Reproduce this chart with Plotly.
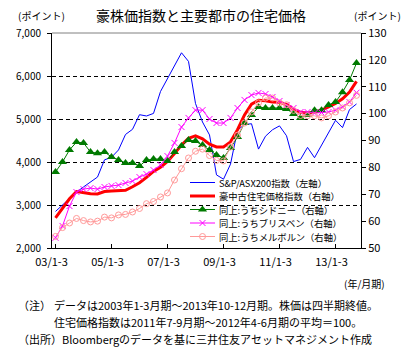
import plotly.graph_objects as go

# ---------------- data ----------------
years = list(range(2003, 2014))
qtrs = ["1-3", "4-6", "7-9", "10-12"]
quarters = [f"{y % 100:02d}/{q}" for y in years for q in qtrs]
tick_labels = ["03/1-3", "05/1-3", "07/1-3", "09/1-3", "11/1-3", "13/1-3"]

asx200 = [2850, 3000, 3140, 3300, 3420, 3530, 3650, 4050, 4110, 4280, 4640, 4760,
          5100, 5070, 5130, 5640, 5940, 6270, 6540, 6340, 5360, 4930, 4630, 3700,
          3600, 3950, 4740, 4870, 4890, 4300, 4600, 4750, 4840, 4610, 4010, 4060,
          4340, 4100, 4390, 4650, 4970, 4800, 5220, 5350]

house_avg = [61.2, 64.8, 68.3, 71.0, 70.5, 70.2, 70.1, 71.0, 71.2, 71.3, 71.5, 72.8,
             74.3, 76.3, 78.5, 80.0, 82.2, 85.2, 88.3, 90.8, 91.7, 90.6, 88.6, 87.6,
             87.6, 89.5, 94.0, 99.5, 103.5, 105.0, 104.8, 104.3, 104.2, 103.4, 101.6, 100.5,
             100.2, 100.5, 101.3, 102.5, 103.8, 105.5, 108.0, 112.0]

sydney = [78.3, 82.0, 86.5, 89.4, 89.1, 85.7, 85.3, 85.7, 83.9, 82.7, 81.6, 81.6,
          80.5, 82.7, 83.1, 83.1, 82.4, 85.7, 88.0, 90.2, 89.8, 88.3, 86.5, 84.6,
          83.5, 87.2, 91.3, 96.5, 99.5, 102.5, 102.1, 102.1, 102.1, 101.7, 99.9, 98.4,
          99.5, 101.3, 101.3, 103.2, 104.3, 108.0, 112.5, 118.8]

brisbane = [53.8, 58.2, 65.6, 70.8, 71.9, 72.3, 71.9, 72.7, 73.1, 73.4, 74.2, 74.9,
            76.4, 77.5, 79.0, 80.9, 84.2, 89.1, 95.0, 98.4, 101.3, 101.3, 98.0, 96.5,
            96.5, 98.4, 102.1, 105.1, 106.9, 107.7, 107.3, 106.2, 104.7, 103.2, 102.1, 100.6,
            100.6, 100.2, 100.4, 100.6, 101.3, 102.5, 104.3, 107.8]

melbourne = [54.3, 57.6, 59.3, 61.0, 60.2, 59.7, 60.0, 61.5, 61.2, 62.3, 62.5, 63.4,
             64.7, 66.5, 67.3, 69.0, 70.5, 75.3, 79.5, 83.5, 86.0, 86.8, 84.4, 82.6,
             82.4, 87.6, 92.0, 96.5, 100.6, 104.0, 105.8, 105.8, 104.0, 103.3, 101.2, 99.3,
             99.2, 99.2, 98.4, 99.2, 100.6, 102.1, 104.0, 106.8]

legend_names = ["S&P/ASX200指数（左軸）", "豪中古住宅価格指数（右軸）", "同上:うちシドニー（右軸）",
                "同上:うちブリスベン（右軸）", "同上:うちメルボルン（右軸）"]

# ---------------- styles ----------------
FONT = "Noto Sans CJK JP"
BLUE = "#0000FF"
RED = "#FF0000"
GREEN = "#007A00"
MAGENTA = "#FF00FF"
PINK = "#FF9999"

W, H = 417, 357
L, R, T, B = 52, 56, 33, 109
PW, PH = W - L - R, H - T - B


def px(x):
    return (x - L) / PW


def py(y):
    return (T + PH - y) / PH


styles = [
    dict(line=dict(color=BLUE, width=1), mode="lines", marker=None),
    dict(line=dict(color=RED, width=3), mode="lines", marker=None),
    dict(line=dict(color=GREEN, width=1), mode="lines+markers",
         marker=dict(symbol="triangle-up", size=8, color=GREEN)),
    dict(line=dict(color=MAGENTA, width=1), mode="lines+markers",
         marker=dict(symbol="x-thin", size=6, color=MAGENTA, line=dict(color=MAGENTA, width=1))),
    dict(line=dict(color=PINK, width=1), mode="lines+markers",
         marker=dict(symbol="circle-open", size=6, color=PINK, line=dict(color=PINK, width=1))),
]

fig = go.Figure()

series = [asx200, house_avg, sydney, brisbane, melbourne]
axes = ["y", "y2", "y2", "y2", "y2"]
for name, vals, ax, st in zip(legend_names, series, axes, styles):
    kw = dict(x=quarters, y=vals, name=name, yaxis=ax, mode=st["mode"], line=st["line"],
              showlegend=False)
    if st["marker"]:
        kw["marker"] = st["marker"]
    fig.add_trace(go.Scatter(**kw))

# ---------------- custom legend (overlay axes in pixel units) ----------------
leg_rows = [182.5, 196, 209.5, 223, 236.5]
for i, (name, st) in enumerate(zip(legend_names, styles)):
    yrow = leg_rows[i]
    fig.add_trace(go.Scatter(x=[190, 215], y=[yrow, yrow], mode="lines", line=st["line"],
                             xaxis="x3", yaxis="y3", showlegend=False, hoverinfo="skip"))
    if st["marker"]:
        fig.add_trace(go.Scatter(x=[202.5], y=[yrow], mode="markers", marker=st["marker"],
                                 xaxis="x3", yaxis="y3", showlegend=False, hoverinfo="skip"))

annotations = []
for i, name in enumerate(legend_names):
    annotations.append(dict(x=218, y=leg_rows[i], xref="x3", yref="y3", text=name,
                            showarrow=False, xanchor="left", yanchor="middle",
                            borderpad=0, font=dict(size=9.3)))

def ann(text, x, y, size=10, xanchor="center"):
    annotations.append(dict(x=px(x), y=py(y), xref="paper", yref="paper", text=text,
                            showarrow=False, xanchor=xanchor, yanchor="middle",
                            font=dict(size=size)))

ann("豪株価指数と主要都市の住宅価格", 201, 15, size=14)
ann("(ポイント)", 41, 15, size=10)
ann("(ポイント)", 377, 15, size=10)
ann("(年/月期)", 364, 283, size=10)
ann("（注）", 16, 305, size=11, xanchor="left")
ann("データは2003年1-3月期～2013年10-12月期。株価は四半期終値。", 52, 305, size=11, xanchor="left")
ann("住宅価格指数は2011年7-9月期～2012年4-6月期の平均＝100。", 52, 322, size=11, xanchor="left")
ann("（出所）Bloombergのデータを基に三井住友アセットマネジメント作成", 16, 339, size=11, xanchor="left")

shapes = [
    # legend background (covers gridlines, below traces)
    dict(type="rect", xref="paper", yref="paper", x0=px(166), x1=px(359), y0=py(246), y1=py(176),
         fillcolor="white", line=dict(width=0), layer="between"),
    # top border
    dict(type="line", xref="paper", yref="paper", x0=0, x1=1, y0=1, y1=1,
         line=dict(color="#808080", width=1), layer="above"),
]

fig.update_layout(
    width=W, height=H,
    margin=dict(l=L, r=R, t=T, b=B, pad=0),
    paper_bgcolor="white", plot_bgcolor="white",
    font=dict(family=FONT, color="black", size=10),
    showlegend=False,
    annotations=annotations,
    shapes=shapes,
    xaxis=dict(type="category", categoryorder="array", categoryarray=quarters,
               range=[-0.5, 43.64], tickmode="array", tickvals=tick_labels, ticktext=tick_labels,
               ticks="inside", ticklen=4, tickcolor="black", showline=True, linecolor="black",
               linewidth=1, showgrid=False, zeroline=False, tickfont=dict(size=11),
               ticklabelshift=-4, ticklabelstandoff=4, tickangle=0),
    yaxis=dict(range=[2000, 7000], dtick=1000, tickformat=",", ticks="outside", ticklen=4,
               tickcolor="black", showline=True, linecolor="black", linewidth=1,
               showgrid=True, gridcolor="black", gridwidth=1, griddash="4px,3px",
               zeroline=False, tickfont=dict(size=10), ticklabelstandoff=4),
    yaxis2=dict(range=[50, 130], dtick=10, overlaying="y", side="right", anchor="x",
                ticks="outside", ticklen=4, tickcolor="black", showline=True, linecolor="black",
                linewidth=1, showgrid=False, zeroline=False, tickfont=dict(size=11)),
    xaxis3=dict(overlaying="x", anchor="y3", range=[L, L + PW], visible=False),
    yaxis3=dict(overlaying="y", anchor="x3", range=[T + PH, T], visible=False),
)

fig.write_html("out.html", config={"displayModeBar": False},
               post_script="document.body.style.margin='0';")
